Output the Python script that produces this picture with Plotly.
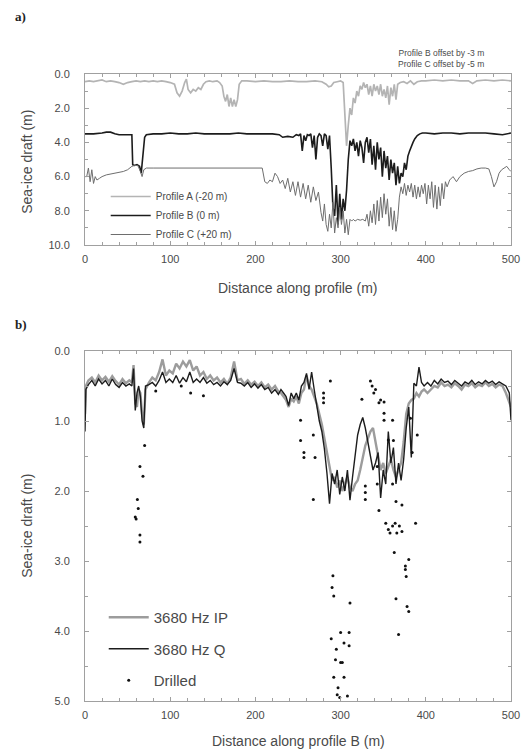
import plotly.graph_objects as go

# ---------------- data: panel a) ----------------
dist_a = [0, 5, 10, 15, 20, 25, 30, 35, 40, 45, 50, 55, 60, 65, 70, 75, 80, 85, 90, 95, 100, 105, 108, 111,
          114, 117, 119, 121, 124, 127, 130, 133, 136, 139, 142, 146, 150, 155, 158, 161, 163, 165, 167, 169,
          171, 173, 175, 177, 179, 181, 184, 190, 200, 210, 220, 230, 240, 250, 260, 270, 278, 283, 286, 289,
          292, 296, 300, 303, 305, 307, 309, 311, 313, 315, 317, 319, 321, 323, 325, 327, 329, 331, 333, 335,
          337, 339, 341, 343, 345, 347, 349, 351, 353, 355, 357, 359, 361, 363, 365, 367, 370, 374, 378, 382,
          386, 390, 395, 400, 410, 420, 430, 440, 450, 455, 460, 470, 480, 490, 500]
draft_a = [0.45, 0.4, 0.45, 0.4, 0.35, 0.45, 0.4, 0.45, 0.5, 0.6, 0.5, 0.45, 0.4, 0.45, 0.4, 0.45, 0.4, 0.45,
           0.4, 0.45, 0.5, 0.6, 1.1, 1.3, 1.0, 0.5, 0.3, 0.9, 1.1, 0.9, 1.0, 0.8, 0.9, 0.6, 0.45, 0.4, 0.45,
           0.4, 0.5, 0.7, 1.3, 1.6, 1.2, 1.9, 1.4, 1.9, 1.5, 1.9, 1.5, 0.6, 0.4, 0.4, 0.45, 0.4, 0.45, 0.45,
           0.4, 0.45, 0.45, 0.4, 0.45, 0.6, 0.75, 0.7, 0.5, 0.45, 0.4, 0.5, 2.5, 4.2, 3.0, 2.0, 2.4, 1.4, 1.7,
           1.0, 1.3, 0.7, 0.9, 0.5, 0.8, 0.6, 1.2, 0.7, 1.3, 0.6, 1.0, 0.7, 1.2, 0.6, 1.3, 0.9, 1.4, 0.7, 1.8,
           0.8, 1.3, 0.6, 1.5, 0.6, 0.5, 0.45, 0.55, 0.4, 0.6, 0.45, 0.4, 0.4, 0.35, 0.4, 0.35, 0.4, 0.4,
           0.55, 0.4, 0.35, 0.4, 0.35, 0.4]

dist_b = [0, 10, 20, 25, 30, 35, 40, 50, 55, 56, 58, 61, 64, 66, 68, 70, 72, 80, 90, 100, 110, 120, 130, 140,
          150, 160, 170, 180, 190, 200, 210, 220, 228, 232, 238, 244, 248, 251, 253, 255, 257, 259, 261, 263,
          265, 267, 269, 271, 273, 275, 277, 279, 281, 283, 285, 287, 289, 291, 293, 295, 297, 299, 301, 303,
          305, 307, 309, 311, 313, 315, 317, 319, 321, 323, 325, 327, 329, 331, 333, 335, 337, 339, 341, 343,
          345, 347, 349, 351, 353, 355, 357, 359, 361, 363, 365, 367, 369, 371, 373, 375, 377, 379, 381, 383,
          385, 387, 390, 393, 396, 400, 410, 420, 430, 440, 450, 460, 470, 480, 490, 500]
draft_b = [3.5, 3.5, 3.45, 3.4, 3.4, 3.5, 3.55, 3.55, 3.55, 5.3, 5.35, 5.3, 5.4, 5.8, 4.6, 3.7, 3.55, 3.5, 3.5,
           3.45, 3.5, 3.5, 3.45, 3.5, 3.5, 3.5, 3.5, 3.45, 3.5, 3.5, 3.5, 3.5, 3.55, 3.7, 3.65, 3.7, 3.55, 3.6,
           3.5, 4.5, 3.6, 3.9, 3.55, 3.6, 3.5, 4.3, 3.6, 5.0, 3.7, 3.5, 3.6, 4.2, 3.5, 3.6, 4.4, 3.6, 5.5, 7.8,
           8.3, 6.5, 8.8, 7.0, 8.5, 7.3, 8.0, 6.8, 5.0, 3.9, 4.2, 3.8, 4.5, 4.0, 4.8, 3.9, 4.3, 5.2, 4.0, 3.7,
           4.6, 3.8, 5.3, 4.2, 5.6, 4.0, 5.0, 4.3, 6.0, 4.5, 5.5, 4.8, 6.2, 5.0, 5.8, 5.2, 6.5, 5.4, 6.4, 5.8,
           6.0, 5.2, 5.6, 4.8, 4.5, 4.2, 4.0, 3.8, 3.6, 3.5, 3.45, 3.45, 3.5, 3.45, 3.45, 3.5, 3.45, 3.45,
           3.45, 3.5, 3.55, 3.45]

dist_c = [0, 2, 4, 6, 8, 10, 12, 14, 17, 20, 25, 30, 35, 40, 45, 50, 55, 58, 62, 65, 67, 69, 72, 80, 100, 120,
          140, 160, 180, 200, 208, 211, 214, 217, 220, 223, 226, 229, 232, 235, 238, 241, 244, 247, 250, 253,
          256, 259, 262, 265, 268, 271, 274, 277, 279, 281, 283, 285, 287, 289, 291, 293, 295, 297, 299, 301,
          303, 305, 307, 309, 311, 313, 315, 317, 320, 323, 326, 329, 331, 333, 335, 337, 339, 341, 343, 345,
          347, 349, 351, 353, 355, 357, 359, 361, 363, 365, 367, 369, 371, 373, 375, 377, 379, 381, 383, 385,
          387, 389, 391, 393, 395, 397, 399, 401, 403, 405, 407, 409, 411, 413, 415, 417, 419, 421, 423, 425,
          428, 432, 436, 440, 445, 450, 455, 460, 465, 470, 474, 477, 480, 483, 486, 489, 492, 495, 498, 500]
draft_c = [6.0, 6.0, 5.5, 6.3, 5.6, 6.4, 6.0, 6.2, 6.1, 6.0, 5.9, 5.85, 5.8, 5.75, 5.7, 5.6, 5.4, 5.35, 5.35,
           5.7, 6.0, 5.6, 5.5, 5.5, 5.5, 5.5, 5.5, 5.5, 5.5, 5.5, 5.5, 6.3, 6.4, 6.2, 6.3, 5.8, 6.0, 6.4, 6.2,
           6.7, 6.1, 6.9, 6.3, 7.1, 6.3, 7.2, 6.4, 7.3, 6.5, 7.5, 6.6, 7.4, 6.9, 8.1, 8.6, 7.6, 8.8, 9.2, 8.2,
           9.0, 7.5, 9.3, 8.4, 9.0, 7.8, 8.8, 8.0, 9.3, 8.5, 9.4, 8.5, 8.6, 8.5, 8.6, 8.5, 8.55, 8.5, 8.6, 8.2,
           8.9, 8.0, 8.7, 7.6, 8.8, 7.4, 8.6, 7.2, 8.4, 7.0, 8.2, 7.3, 8.9, 7.8, 9.1, 8.0, 9.2, 8.5, 7.2, 6.6,
           7.0, 6.4, 7.1, 6.5, 6.9, 6.4, 7.2, 6.5, 7.3, 6.6, 7.2, 6.5, 7.0, 6.4, 7.6, 6.5, 7.3, 6.3, 7.8, 6.5,
           7.9, 6.6, 7.7, 6.4, 7.3, 6.3, 6.6, 6.2, 6.0, 6.3, 6.0, 5.8, 5.7, 5.65, 5.55, 5.5, 5.5, 5.55, 6.0,
           6.6, 6.3, 5.8, 5.6, 5.5, 5.4, 5.6, 5.7]

# ---------------- data: panel b) ----------------
dist_em = [0, 1, 4, 8, 12, 16, 20, 24, 28, 32, 36, 40, 44, 48, 52,
           55, 57, 59, 61, 63, 65, 67, 69, 71,
           75, 79, 83, 87, 91, 95, 99, 103, 107, 111, 115, 119, 123, 127, 131, 135, 139, 143, 147, 151, 155,
           159, 163, 167, 171, 175, 179, 183, 187, 191, 195, 199, 203, 207, 211, 215, 219, 223, 227,
           230, 233, 236, 239, 242, 245, 248, 251, 254, 257, 260, 263, 266, 269, 272, 275, 278, 281, 284, 287,
           290, 293, 296, 299, 302, 305, 308, 311, 314, 317, 320, 323, 326, 329, 332, 335, 338, 341, 344, 347,
           350, 353, 356, 359, 362, 365, 368, 371, 374, 377, 380, 383, 386, 389, 392, 395, 398,
           402, 406, 410, 414, 418, 422, 426, 430, 434, 438, 442, 446, 450, 454, 458, 462, 466, 470, 474, 478,
           482, 486, 490, 494, 498, 500]
draft_ip = [0.9, 0.5, 0.42, 0.38, 0.45, 0.35, 0.42, 0.37, 0.44, 0.36, 0.43, 0.48, 0.40, 0.46, 0.42,
            0.45, 0.2, 0.75, 0.8, 0.55, 0.6, 0.9, 1.05, 0.55,
            0.45, 0.38, 0.42, 0.3, 0.12, 0.35, 0.28, 0.32, 0.18, 0.25, 0.15, 0.22, 0.13, 0.28, 0.22, 0.35, 0.3,
            0.4, 0.35, 0.42, 0.38, 0.45, 0.4, 0.47, 0.38, 0.15, 0.42, 0.4, 0.47, 0.42, 0.48, 0.44, 0.5, 0.45,
            0.52, 0.48, 0.55, 0.5, 0.58,
            0.6, 0.65, 0.7, 0.8, 0.68, 0.72, 0.65, 0.75, 0.6, 0.55, 0.35, 0.5, 0.55, 0.65, 0.75, 0.9, 1.05,
            1.25, 1.45, 1.7, 1.85, 1.8, 1.95, 1.85, 2.0, 1.9, 1.8, 1.95, 2.0, 1.9, 1.85, 1.7, 1.5, 1.35, 1.25,
            1.15, 1.1, 1.3, 1.55, 1.7, 1.6, 1.75, 1.65, 1.55, 1.7, 1.8, 1.7, 1.6, 1.3, 0.9, 0.75, 0.7, 0.68,
            0.6, 0.65, 0.58, 0.55,
            0.6, 0.55, 0.5, 0.52, 0.45, 0.5, 0.48, 0.52, 0.46, 0.5, 0.55, 0.48, 0.5, 0.46, 0.52, 0.48, 0.5,
            0.45, 0.5, 0.47, 0.52, 0.48, 0.5, 0.6, 0.75, 0.8]
draft_q = [1.15, 0.55, 0.48, 0.42, 0.5, 0.4, 0.47, 0.42, 0.5, 0.4, 0.48, 0.52, 0.45, 0.5, 0.47,
           0.5, 0.25, 0.85, 0.6, 0.5, 0.65, 1.0, 1.1, 0.5,
           0.48, 0.45, 0.5, 0.42, 0.3, 0.45, 0.4, 0.45, 0.35, 0.46, 0.38, 0.44, 0.3, 0.45, 0.4, 0.45, 0.38,
           0.46, 0.42, 0.48, 0.45, 0.5, 0.44, 0.48, 0.42, 0.25, 0.45, 0.46, 0.5, 0.45, 0.52, 0.47, 0.53, 0.48,
           0.55, 0.52, 0.6, 0.55, 0.62,
           0.55, 0.6, 0.65, 0.78, 0.6, 0.68, 0.6, 0.7, 0.5, 0.45, 0.32, 0.55, 0.3, 0.55, 0.8, 1.0, 1.15, 1.4,
           1.75, 2.18, 1.75, 1.9, 1.7, 2.05, 1.8, 2.0, 1.7, 2.13, 1.8, 1.5, 1.2, 1.05, 0.95, 1.1, 1.3, 1.5,
           1.7, 1.6, 1.45, 2.1, 1.7, 1.9, 1.15, 1.6, 1.38, 1.9, 1.6, 1.85, 1.55, 1.1, 0.8, 1.52, 0.46, 0.5,
           0.23, 0.45, 0.5,
           0.45, 0.5, 0.42, 0.47, 0.4, 0.45, 0.43, 0.48, 0.42, 0.46, 0.5, 0.44, 0.47, 0.42, 0.48, 0.44, 0.47,
           0.42, 0.46, 0.43, 0.48, 0.44, 0.47, 0.5, 0.6, 0.99]

dist_drill = [83, 113, 124, 139, 59, 60, 61.5, 62.5, 64.5, 64.5, 64.5, 68, 70,
              253, 253, 257, 257, 268, 268, 270, 280, 280, 280, 288,
              325, 335, 337, 339, 341, 345, 351, 351, 343, 343, 345, 329, 329, 329,
              347, 351, 361, 362, 356, 361, 365, 372, 388, 382, 390, 384,
              353, 356, 358, 361, 364, 366, 369, 372,
              363, 376, 376, 380, 377, 365, 378, 380, 368,
              291, 290, 292, 311, 300, 310, 289, 295, 304, 310, 294, 300, 302, 292, 304, 297, 296, 299, 308]
draft_drill = [0.57, 0.5, 0.6, 0.64, 2.37, 2.4, 2.12, 2.25, 1.65, 2.63, 2.73, 1.79, 1.35,
               0.99, 1.28, 1.45, 1.52, 2.12, 1.2, 1.52, 0.6, 0.67, 0.74, 0.43,
               0.69, 0.43, 0.5, 0.6, 0.55, 0.74, 0.89, 0.99, 1.65, 1.9, 2.28, 1.93, 2.02, 2.12,
               0.7, 0.73, 0.99, 1.28, 1.27, 1.9, 2.15, 2.2, 2.46, 0.96, 1.2, 1.45,
               2.46, 2.55, 2.6, 2.5, 2.46, 2.6, 2.5, 2.58,
               2.88, 3.07, 3.12, 2.98, 3.22, 3.54, 3.65, 3.72, 4.05,
               3.21, 3.38, 3.5, 3.6, 4.02, 4.02, 4.11, 4.26, 4.17, 4.21, 4.41, 4.45, 4.45, 4.66, 4.66, 4.81,
               4.91, 4.95, 4.93]

# ---------------- layout helpers ----------------
# the page body has an 8 px margin, so the figure is drawn 8 px smaller and offset by 8 px
OFF = 8
W, H = 532 - OFF, 753 - OFF
ML, MR, MT, MB = 85 - OFF, 15, 74 - OFF, 52
PW = W - ML - MR
PH = H - MT - MB


def fx(px):
    return (px - OFF - ML) / PW


def fy(py):
    return (H + OFF - MB - py) / PH


FONT = "Liberation Sans, Arial, Helvetica, sans-serif"
TXT = "#4a4a4a"
FRAME = "#a0a0a0"

fig = go.Figure()

fig.add_trace(go.Scatter(x=dist_a, y=draft_a, mode="lines", name="Profile A (-20 m)",
                         line=dict(color="#b4b4b4", width=1.7), xaxis="x", yaxis="y",
                         legend="legend", legendgroup="a"))
fig.add_trace(go.Scatter(x=dist_b, y=draft_b, mode="lines", name="Profile B (0 m)",
                         line=dict(color="#1c1c1c", width=1.6), xaxis="x", yaxis="y",
                         legend="legend", legendgroup="b"))
fig.add_trace(go.Scatter(x=dist_c, y=draft_c, mode="lines", name="Profile C (+20 m)",
                         line=dict(color="#6e6e6e", width=1.0), xaxis="x", yaxis="y",
                         legend="legend", legendgroup="c"))

fig.add_trace(go.Scatter(x=dist_em, y=draft_ip, mode="lines", name="3680 Hz IP",
                         line=dict(color="#9c9c9c", width=2.4), xaxis="x2", yaxis="y2",
                         legend="legend2", legendgroup="ip"))
fig.add_trace(go.Scatter(x=dist_em, y=draft_q, mode="lines", name="3680 Hz Q",
                         line=dict(color="#1c1c1c", width=1.4), xaxis="x2", yaxis="y2",
                         legend="legend2", legendgroup="q"))
fig.add_trace(go.Scatter(x=dist_drill, y=draft_drill, mode="markers", name="Drilled",
                         marker=dict(color="#111111", size=3), xaxis="x2", yaxis="y2",
                         legend="legend2", legendgroup="d"))

base_axis = dict(showline=True, linecolor=FRAME, linewidth=1, mirror="ticks", ticks="inside",
                 ticklen=4, tickcolor=FRAME, tickwidth=1, showgrid=False, zeroline=False,
                 tickfont=dict(family=FONT, size=11, color=TXT))

fig.update_layout(
    width=W, height=H,
    margin=dict(l=ML, r=MR, t=MT, b=MB),
    paper_bgcolor="white", plot_bgcolor="white",
    xaxis=dict(base_axis, domain=[0, 1], anchor="y", range=[0, 500], tick0=0, dtick=100,
               minor=dict(dtick=20, ticks="inside", ticklen=3, tickcolor=FRAME, showgrid=False),
               ticklabelstandoff=4),
    yaxis=dict(base_axis, domain=[fy(245), fy(74)], anchor="x", range=[10, 0], tick0=0, dtick=2,
               tickformat=".1f",
               minor=dict(dtick=1, ticks="inside", ticklen=3, tickcolor=FRAME, showgrid=False),
               ticklabelstandoff=12),
    xaxis2=dict(base_axis, domain=[0, 1], anchor="y2", range=[0, 500], tick0=0, dtick=100,
                minor=dict(dtick=20, ticks="inside", ticklen=3, tickcolor=FRAME, showgrid=False),
                ticklabelstandoff=4),
    yaxis2=dict(base_axis, domain=[0, fy(351)], anchor="x2", range=[5, 0], tick0=0, dtick=1,
                tickformat=".1f",
                minor=dict(dtick=0.5, ticks="inside", ticklen=3, tickcolor=FRAME, showgrid=False),
                ticklabelstandoff=12),
    legend=dict(x=fx(106), y=fy(182), xanchor="left", yanchor="top", bgcolor="rgba(0,0,0,0)",
                font=dict(family=FONT, size=10, color=TXT), tracegroupgap=0, itemwidth=40),
    legend2=dict(x=fx(104), y=fy(601), xanchor="left", yanchor="top", bgcolor="rgba(0,0,0,0)",
                 font=dict(family=FONT, size=15, color=TXT), tracegroupgap=9, itemwidth=40),
    showlegend=True,
)

annots = [
    dict(text="<b>a)</b>", x=fx(20), y=fy(16), font=dict(family="Liberation Serif, serif", size=13, color="#222")),
    dict(text="<b>b)</b>", x=fx(20), y=fy(324), font=dict(family="Liberation Serif, serif", size=13, color="#222")),
    dict(text="Profile B offset by -3 m<br>Profile C offset by -5 m", x=fx(492), y=fy(59),
         xanchor="right", align="right", font=dict(family=FONT, size=8.5, color=TXT)),
    dict(text="Sea-ice draft (m)", x=fx(26), y=fy(162), textangle=-90,
         font=dict(family=FONT, size=14, color=TXT)),
    dict(text="Sea-ice draft (m)", x=fx(26), y=fy(526), textangle=-90,
         font=dict(family=FONT, size=14, color=TXT)),
    dict(text="Distance along profile (m)", x=fx(301), y=fy(288),
         font=dict(family=FONT, size=14, color=TXT)),
    dict(text="Distance along profile B (m)", x=fx(301), y=fy(741),
         font=dict(family=FONT, size=14, color=TXT)),
]
for a in annots:
    a.update(xref="paper", yref="paper", showarrow=False)
    a.setdefault("xanchor", "center")
    a.setdefault("yanchor", "middle")
fig.update_layout(annotations=annots)

fig.write_html("out.html")
